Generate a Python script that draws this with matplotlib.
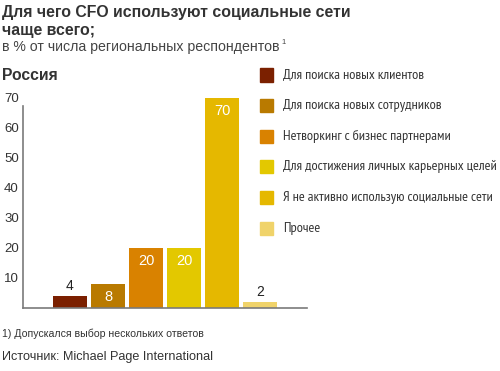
import matplotlib.pyplot as plt
from matplotlib import font_manager

# Данные
categories = [
    "Для поиска новых клиентов",
    "Для поиска новых сотрудников",
    "Нетворкинг с бизнес партнерами",
    "Для достижения личных карьерных целей",
    "Я не активно использую социальные сети",
    "Прочее",
]
values = [4, 8, 20, 20, 70, 2]
colors = ["#7b2000", "#b97a00", "#d98200", "#e3c800", "#e5b800", "#f0d36a"]
yticks = [10, 20, 30, 40, 50, 60, 70]

W, H = 500, 371
fig = plt.figure(figsize=(W / 100, H / 100), dpi=100)
plt.rcParams['font.family'] = ['Liberation Sans', 'DejaVu Sans']

# узкий шрифт с кириллицей для легенды
installed = {f.name for f in font_manager.fontManager.ttflist}
leg_family = 'Liberation Sans'
for name in ['PT Sans Narrow', 'Roboto Condensed', 'Fira Sans Condensed']:
    if name in installed:
        leg_family = name
        break

def fx(px):
    return px / W

def fy(py):
    return 1 - py / H

# Оси графика
ax = fig.add_axes([fx(23), fy(308), fx(284), (308 - 98) / H])
x = list(range(len(values)))
ax.bar(x, values, width=0.895, color=colors)
ax.set_xlim(-1.235, 6.235)
ax.set_ylim(0, 70)
ax.set_yticks(yticks)
ax.set_xticks([])
ax.tick_params(axis='y', length=0, pad=3, labelsize=9.5, labelcolor="#333333")
for s in ["top", "right"]:
    ax.spines[s].set_visible(False)
for s in ["left", "bottom"]:
    ax.spines[s].set_color("#7a7a7a")
    ax.spines[s].set_linewidth(1.2)
ax.spines["left"].set_bounds(0, 67.5)

# Подписи значений
for i, v in enumerate(values):
    if v < 5:
        ax.annotate(str(v), (i, v), xytext=(0, 2), textcoords="offset points",
                    ha="center", va="bottom", fontsize=10, color="#222222")
    else:
        ax.annotate(str(v), (i, v), xytext=(0, -9.5), textcoords="offset points",
                    ha="center", va="center", fontsize=10.5, color="white")

# Заголовки
fig.text(fx(2), fy(12), "Для чего CFO используют социальные сети", fontsize=11.4,
         fontweight="bold", color="#333333", va="center")
fig.text(fx(2), fy(30), "чаще всего;", fontsize=11.4,
         fontweight="bold", color="#333333", va="center")
fig.text(fx(2), fy(47), "в % от числа региональных респондентов", fontsize=10.2,
         color="#444444", va="center")
fig.text(fx(281), fy(43), "1", fontsize=5.5, color="#444444", va="center")
fig.text(fx(2), fy(75), "Россия", fontsize=11.3, fontweight="bold",
         color="#333333", va="center")

# Легенда
leg_texts = []
for i, (c, lab) in enumerate(zip(colors, categories)):
    yy = 75 + i * 30.6
    fig.patches.append(plt.Rectangle((fx(260), fy(yy + 6.5)), fx(13), 13 / H,
                                     transform=fig.transFigure, color=c))
    t = fig.text(fx(283), fy(yy), lab, color="#333333", va="center",
                 family=[leg_family, 'DejaVu Sans'], fontsize=10)
    leg_texts.append(t)

# подгоняем размер, чтобы самая длинная строка была ~215 px
r = fig.canvas.get_renderer()
widest = max(t.get_window_extent(r).width for t in leg_texts)
size = min(10 * 215 / widest, 11)
for t in leg_texts:
    t.set_fontsize(size)

fig.text(fx(2), fy(334), "1) Допускался выбор нескольких ответов", fontsize=7.6,
         color="#333333", va="center")
fig.text(fx(2), fy(357), "Источник: Michael Page International", fontsize=9.1,
         color="#333333", va="center")

fig.savefig("out.png", dpi=100)
